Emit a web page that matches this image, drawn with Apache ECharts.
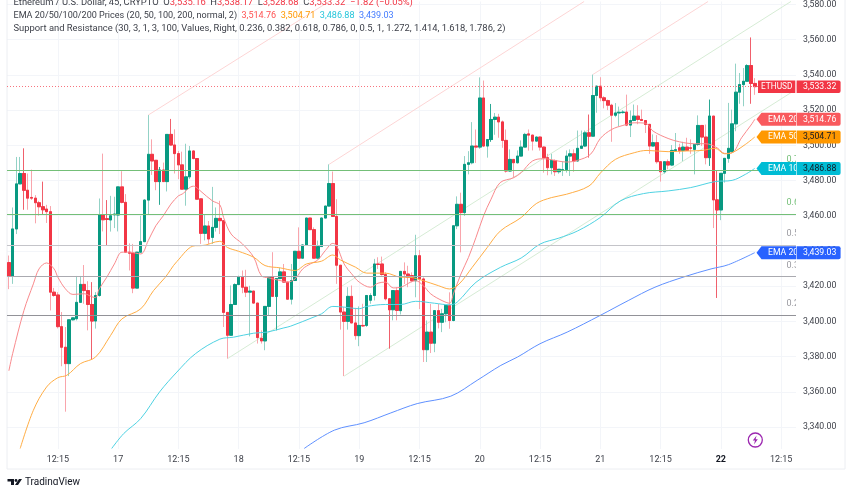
<!DOCTYPE html>
<html>
<head>
<meta charset="utf-8">
<style>html,body{margin:0;padding:0;background:#fff}#main{width:852px;height:485px}</style>
<script src="https://cdn.jsdelivr.net/npm/echarts@6/dist/echarts.min.js"></script>
</head>
<body>
<div id="main"></div>
<script>
// 45 minute candles: open, close, low, high
var candles = [
[3433.4,3425.5,3418.3,3437.4],[3425.5,3452.5,3421.3,3464.7],[3452.5,3478.1,3449.6,3493.4],[3478.1,3484,3478,3493.4],
[3484,3474.5,3463.4,3498.3],[3474.5,3470,3463.4,3484],[3470.4,3470,3469,3486.2],[3470,3467.4,3455.7,3471.7],
[3467.4,3465.1,3460,3468.5],[3465.1,3463.4,3460.6,3479.4],[3463.8,3462.3,3455.9,3466.2],[3462.3,3416.6,3406.2,3465.5],
[3416.6,3414.7,3414,3419],[3415,3397,3396,3416.6],[3397,3385.3,3374.5,3405.3],[3385.3,3376,3348.7,3396.8],
[3376,3400.9,3368.9,3401],[3400.9,3402,3400.5,3402.5],[3401.5,3410.8,3400.5,3425.8],[3410.8,3421,3410.8,3425.8],
[3421,3417.5,3410,3432],[3417.5,3409.6,3394.9,3422.8],[3409.6,3400.2,3378.3,3422.3],[3400.2,3414.7,3395.9,3416.6],
[3414.7,3460.4,3414,3469.8],[3460.4,3457.7,3451.1,3495.3],[3458.3,3457.9,3443.2,3468.9],[3457.6,3460,3451,3471.3],
[3460.5,3461,3453,3470.8],[3460.4,3476.4,3451.1,3476.5],[3476.4,3467.6,3467,3485.3],[3467.6,3439.3,3439,3472.3],
[3439.3,3438.7,3428.9,3444.3],[3438.7,3418.9,3416,3444],[3418.9,3439.3,3418.9,3439.5],[3439.3,3445.3,3439,3460],
[3445.3,3468.9,3445,3469.5],[3468.9,3494.9,3460.6,3517.2],[3494.9,3491.1,3483.2,3503.4],[3491.5,3479.4,3474.5,3491.6],
[3479.4,3486,3466.2,3487.7],[3486,3479.4,3479.4,3490.2],[3479.4,3506.2,3473.8,3506.3],[3506.2,3500.2,3500,3515],
[3500.2,3495.3,3484,3509.1],[3495.3,3488.9,3480.8,3496.8],[3488.9,3475.1,3475,3496.4],[3475.1,3482.1,3465.7,3500.9],
[3482.1,3496.8,3480.8,3499.6],[3496.8,3492.5,3492,3497.2],[3492.5,3469.4,3469,3492.6],[3469.6,3450,3444,3469.7],
[3450,3454.2,3446,3461],[3454.2,3446.8,3444,3457],[3447.7,3453.4,3444,3476.4],[3453.4,3458.5,3451,3464.7],
[3458.5,3457.2,3449.6,3468.5],[3457.2,3405.1,3396.8,3457.3],[3405.1,3392.1,3378.9,3405.2],[3392.1,3409.6,3392,3420.4],
[3409.6,3420.9,3409.5,3421.7],[3420.9,3425.1,3420.8,3426],[3425.1,3419.4,3416,3428.9],[3419.4,3416.6,3413.8,3429.3],
[3416.6,3417.2,3391.5,3420.2],[3417.2,3410.4,3410,3417.3],[3410.4,3390.8,3387.4,3410.5],[3390.4,3388.9,3387.4,3394.9],
[3388.9,3408.5,3383.6,3408.6],[3408.5,3425.1,3403.4,3425.2],[3425.1,3414.2,3414,3439.3],[3414.2,3424.3,3394.9,3424.4],
[3424.3,3428.1,3424,3430.4],[3428.1,3422.3,3422,3432.6],[3422.3,3412.6,3412.5,3422.4],[3412.6,3423.2,3409.6,3432.6],
[3423.2,3439.8,3423,3440],[3439.8,3435.9,3435.8,3453.4],[3435.9,3443.4,3435.8,3443.5],[3443.4,3458.7,3443.3,3458.8],
[3458.7,3452.1,3452,3458.8],[3452.1,3435.9,3435.5,3453.4],[3435.9,3442.5,3435.8,3445.9],[3442.5,3458.7,3442.4,3459],
[3458.7,3465.5,3458.6,3465.6],[3465.5,3478.3,3465.4,3489.2],[3478.3,3459.6,3459.5,3485.1],[3459.6,3431.9,3421.3,3469.4],
[3431.9,3405.3,3395.3,3432],[3405.3,3400,3368.9,3408.1],[3400,3414.2,3395.3,3419.4],[3414.2,3399.1,3399,3420.4],
[3399.1,3391.9,3389.6,3407.7],[3391.9,3397.7,3385.9,3408.5],[3397.7,3397.4,3396.8,3410],[3397.7,3414.7,3396.8,3415],
[3412,3414.7,3410,3416],[3414.7,3432.6,3411.9,3435.5],[3432.6,3432.3,3429.8,3436.4],[3432.6,3426.6,3426,3436.8],
[3426.6,3412.8,3411.9,3427.9],[3412.8,3406.6,3384.5,3413],[3406.6,3417.5,3400.6,3417.6],[3417.5,3406.2,3400.6,3419.4],
[3406.1,3428.4,3403.9,3428.5],[3428.4,3426.9,3421.2,3433.5],[3426.9,3425,3419.4,3431.6],[3426,3423.1,3422.2,3427.8],
[3423.1,3437.3,3413.7,3449.2],[3437.3,3424.1,3407,3440.5],[3424.1,3383.9,3376.9,3425],[3383.9,3393.9,3376.9,3400.5],
[3393.9,3387.6,3382,3409.9],[3387.6,3406.1,3382.5,3406.2],[3406.1,3399.5,3396,3409.9],[3399.5,3404.3,3393.9,3407.1],
[3404.3,3409,3399.5,3409.5],[3409,3400.5,3395.8,3416.5],[3400.5,3454.3,3400,3454.4],[3454.3,3466.5,3452.4,3471],
[3466.5,3461.8,3439.2,3473.1],[3461.8,3489.2,3459.9,3493.9],[3489.2,3490.1,3483.5,3496.7],[3490.1,3499.6,3489.2,3513.2],
[3499.6,3499,3490,3509],[3499,3526.9,3498,3538.6],[3526.9,3499.6,3499,3536.8],[3499.6,3503.3,3493,3503.5],
[3503.3,3514.7,3502,3523.5],[3514.7,3516,3506,3518.4],[3516,3513.3,3504.3,3517.9],[3513.3,3502.8,3498.6,3514.1],
[3502.8,3485.4,3484.5,3509],[3485.4,3492,3485,3497.7],[3492,3490.1,3481.6,3492.2],[3490.1,3493.9,3489.6,3497.1],
[3493.9,3499,3493.7,3502.8],[3499,3506.2,3498.9,3507.1],[3506.5,3505.8,3497,3509],[3505.8,3502.4,3497.1,3506],
[3502.4,3504.7,3502,3505],[3504.7,3499,3497,3505],[3499,3493,3484.5,3499.5],[3493,3487.3,3483,3495.2],
[3487.3,3491.4,3483.5,3495.2],[3491.4,3485,3482.6,3492],[3485,3486.4,3483.9,3486.5],[3485.8,3486.2,3482.6,3491],
[3486.2,3493.9,3484.5,3497.1],[3493.9,3495.2,3482.6,3497.7],[3495.2,3491.1,3485,3497.7],[3491.1,3498.3,3490.8,3508.4],
[3498.3,3499.6,3498.2,3508.4],[3499.6,3507.1,3499,3508.4],[3507.1,3505.2,3493,3517.5],[3505.2,3528.3,3505,3540.2],
[3528.3,3533.6,3518.5,3534],[3533.6,3527,3525,3538.7],[3527,3525.4,3521,3527.9],[3525.4,3522.8,3520,3526],
[3522.8,3517.1,3502,3523.6],[3517.1,3518.4,3516,3524],[3518.4,3518.8,3510.9,3522],[3518.6,3518.9,3518,3520],
[3518.9,3511.5,3510.9,3528.8],[3511.5,3514.1,3504.7,3519.8],[3514.1,3516.6,3513.7,3523.2],[3516.6,3514.7,3512,3522.8],
[3514.7,3514.1,3514,3520.3],[3514.1,3511.9,3507,3514.2],[3511.9,3499.6,3495.2,3512.2],[3499.6,3501.5,3499.5,3506.2],
[3501.5,3490.7,3489.6,3505.8],[3490.7,3485,3479.4,3491],[3485,3490.7,3483.9,3490.8],[3490.7,3488.8,3486.4,3492],
[3488.8,3497.1,3488.2,3500.2],[3497.1,3497.5,3496.4,3507],[3498.6,3497.1,3495.2,3500.9],[3497.1,3499,3491,3502],
[3499,3497.1,3496.8,3504.3],[3498.6,3498.3,3495.2,3503.4],[3497.7,3500.5,3483.5,3500.6],[3500.5,3511.3,3499.6,3517],
[3511.3,3504.7,3499.6,3511.4],[3504.7,3493,3489.2,3511.8],[3493,3516.6,3488.3,3526],[3516.6,3469,3453,3516.7],
[3469,3463.3,3413.3,3485.4],[3463.3,3484.1,3457.5,3484.2],[3484.1,3492.6,3478.8,3492.7],[3492.6,3498.3,3490.1,3524.1],
[3496.4,3512.2,3495.8,3520.3],[3512.2,3530.2,3508,3546.4],[3530.2,3534.5,3523.6,3541.1],[3534.5,3536.4,3522.2,3543.9],
[3536.4,3545.3,3536.3,3546.2],[3545.3,3535.16,3523.6,3561.3],[3535.16,3533.32,3528.68,3538.17]
];
// candles whose wick shows in the full colour
var darkWicks = [4,9,22,26,40,43,71,101,128,154,186,188,197];

// EMA lines as [candle number, price] read at points along each curve
var ema20 = [[0,3371.9],[1,3381.7],[4,3406.2],[6.5,3421.3],[8,3429.8],[10,3433.2],[12,3429.8],[13,3425.1],[15,3418.5],[17,3415.3],[20,3415.7],[22,3414],[23,3413.5],[24,3418.5],[26,3425.1],[28,3432.6],[30,3439.3],[32,3439.3],[35,3438.3],[37,3445.9],[39,3454.3],[41,3460],[43,3466.6],[45,3471.3],[46,3472.3],[49,3476.8],[50,3475.7],[51,3473.8],[54,3468.5],[56,3466.2],[57,3459],[59,3449.6],[62,3444],[65,3436.4],[67,3426],[69,3424.7],[72,3423.2],[74,3422.3],[76,3424.2],[78,3429.8],[80,3432.6],[82,3434.9],[84,3440.2],[86,3444.3],[87,3443],[89,3432.6],[91,3427],[93,3422.3],[96,3419.4],[98,3421.7],[100,3422.3],[102,3419],[104,3419.4],[108,3423.1],[110,3420.3],[112,3415.6],[115,3411.8],[117,3410.3],[118,3415.6],[120,3426.9],[122,3436.3],[124,3447.7],[126,3459.9],[128,3469.4],[130.4,3478.8],[134,3481.6],[136,3484.5],[139,3491.1],[142,3492.4],[146,3491],[148,3490.5],[151,3491.5],[154.4,3494.9],[157,3503.9],[160,3509],[163,3511.3],[166,3512.8],[169,3512.6],[171,3508.1],[175,3503.9],[178,3502],[182,3500.9],[185,3500.9],[188,3498.6],[190,3495.4],[192,3495.8],[194.5,3504.3],[197,3511.5],[198,3514.76]];
var ema50 = [[3,3327.8],[6.5,3349.5],[10,3362.7],[13,3368],[15.4,3369.4],[19,3376],[23,3379.7],[27,3392],[30,3401.4],[35,3407.1],[38.4,3417.5],[41.5,3425],[44.6,3434],[49.5,3443],[51,3443],[56,3445.5],[58,3442],[61,3439.8],[65,3436.4],[68,3431.7],[72,3430.4],[76,3428.9],[79,3432.6],[83,3434.2],[86,3437.7],[88,3434.9],[92,3430.8],[95,3427.4],[100,3427.4],[104,3425.1],[106.5,3425],[110,3423.1],[114,3420.3],[117,3418.4],[119.5,3421.2],[123,3430.7],[127,3442],[130.5,3451.4],[136,3459],[140,3466.9],[144,3470.3],[148,3472.2],[154,3476.9],[157,3484.2],[161,3492],[166,3495.8],[169.4,3497.1],[175,3496.4],[180,3496.8],[184,3497.1],[187.5,3498.3],[190,3495.2],[192,3495.8],[195.5,3500.5],[198,3504.71]];
var ema100 = [[27.3,3327.8],[30.5,3336.3],[35,3344.8],[40,3359.9],[44.6,3371.2],[49.5,3381.6],[56,3389.9],[59.6,3391],[65,3393.3],[68.5,3393.9],[73,3396.3],[74.7,3397.2],[81,3402.5],[83,3404.3],[86,3408.5],[89,3408.1],[93,3407.2],[95,3408.5],[100,3409.6],[104,3409.6],[108,3411.4],[113,3410.3],[117,3409.4],[119,3410.9],[124,3422.2],[130.5,3430.7],[136,3436],[141,3443.9],[146,3447.3],[151,3451.4],[157,3459],[162.3,3468.4],[168.5,3472.6],[175,3474.1],[181,3476],[187.5,3479.4],[192,3480.1],[195.5,3483.5],[198,3486.88]];
var ema200 = [[78.4,3327.8],[86.4,3338.2],[94.3,3342.4],[101.4,3348],[108.4,3353.3],[117.3,3357.5],[124.3,3366.5],[130.6,3375],[135,3379.7],[141,3387.3],[148.2,3393.9],[156.9,3403.3],[164.4,3411.8],[171.5,3419.4],[179.4,3425.4],[186.4,3429.8],[191,3432.2],[198,3439.03]];

// channel lines, start and end of each
var pinkLines = [[[37,3517.2],[85,3581.7]],[[85,3489.2],[152.7,3581.7]],[[155,3540.2],[185.6,3581.7]]];
var greenLines = [[[58,3378.8],[207.6,3581.7]],[[89,3368.9],[208.2,3530.7]]];

// support and resistance levels
var levelPrices = [3485.6,3460.8,3443,3425.4,3403.6];
var levelColors = ['#74bf78','#74bf78','#c4c4c9','#aaaab0','#929298'];
var lastPrice = 3533.32;

var priceTicks = [3340,3360,3380,3400,3420,3440,3460,3480,3500,3520,3540,3560,3580];
var timeTicks = [13,29,45,61,77,93,109,125,141,157,173,189,205];
var timeLabels = ['12:15','17','12:15','18','12:15','19','12:15','20','12:15','21','12:15','22','12:15'];

// price tags on the right
var tagNames = ['EMA 20','EMA 50','EMA 10','EMA 20'];
var tagValues = [3514.76,3504.71,3486.88,3439.03];
var tagPrices = ['3,514.76','3,504.71','3,486.88','3,439.03'];
var tagColors = ['#f9595d','#ff9800','#00bcd4','#2962ff'];
var tagInk = ['#fff','#131722','#131722','#fff'];

// clipped level captions at the right edge of the plot
var fibTexts = ['0.7','0.6','0.5','0.3','0.2'];
var fibPrices = [3492,3467.2,3449.5,3431.5,3410];
var fibColors = ['#74bf78','#74bf78','#9a9aa0','#9a9aa0','#9a9aa0'];

var FONT = 'Roboto';
var UP = '#089981', DOWN = '#f23645';

var chart = echarts.init(document.getElementById('main'));

function lineSeries(data, color) {
	return {
		type: 'line', data: data, symbol: 'none', silent: true, z: 4,
		lineStyle: { color: color, width: 1 }
	};
}

function emaSeries(data, color) {
	return Object.assign(lineSeries(data, color), { smooth: 0.35 });
}

var series = [];

pinkLines.forEach(function (l) { series.push(Object.assign(lineSeries(l, '#fdd5d5'), { z: 1 })); });
greenLines.forEach(function (l) { series.push(Object.assign(lineSeries(l, '#d6ecd5'), { z: 1 })); });

series.push({
	type: 'line', data: [], symbol: 'none', silent: true, z: 1,
	markLine: {
		silent: true, symbol: 'none', label: { show: false }, animation: false,
		data: levelPrices.map(function (v, i) {
			return { yAxis: v, lineStyle: { color: levelColors[i], width: 1.2, type: 'solid' } };
		}).concat([{ yAxis: lastPrice, lineStyle: { color: '#f7747e', width: 1, type: [1, 2] } }])
	}
});

// wicks first, bodies over them so the wicks can be paler
series.push({
	type: 'candlestick', barWidth: 3, silent: true, z: 2,
	data: candles.map(function (c, i) {
		var item = { value: [i, c[0], c[1], c[2], c[3]] };
		if (darkWicks.indexOf(i) >= 0) {
			var col = c[1] > c[0] ? '#2ba893' : '#f0606c';
			item.itemStyle = { color: col, color0: col, borderColor: col, borderColor0: col };
		}
		return item;
	}),
	itemStyle: { color: '#93d2c6', color0: '#f9a5ac', borderColor: '#93d2c6', borderColor0: '#f9a5ac', borderWidth: 1 }
});
series.push({
	type: 'candlestick', barWidth: 3, silent: true, z: 3,
	data: candles.map(function (c, i) {
		return [i, c[0], c[1], Math.min(c[0], c[1]), Math.max(c[0], c[1])];
	}),
	itemStyle: { color: UP, color0: DOWN, borderColor: UP, borderColor0: DOWN, borderWidth: 1 }
});

series.push(emaSeries(ema20, '#f98a8d'));
series.push(emaSeries(ema50, '#ffad45'));
series.push(emaSeries(ema100, '#4fd2e2'));
series.push(emaSeries(ema200, '#5f90ff'));

function titleLine(text, top, size) {
	function part(color) { return { color: color, fontFamily: FONT, fontSize: size }; }
	return {
		left: 13.5, top: top, padding: 0, text: text,
		textStyle: {
			fontSize: size, fontWeight: 'normal', fontFamily: FONT, color: '#3b3e47',
			rich: { k: part('#3b3e47'), r: part('#f23645'), a: part('#ff5252'), b: part('#ff9800'), c: part('#26c6da'), d: part('#447cff') }
		}
	};
}

chart.setOption({
	animation: false,
	backgroundColor: '#fff',
	title: [
		titleLine('{k|Ethereum / U.S. Dollar, 45, CRYPTO  O}{r|3,535.16}{k|  H}{r|3,538.17}{k|  L}{r|3,528.68}{k|  C}{r|3,533.32  −1.82 (−0.05%)}', -2, 9.4),
		titleLine('{k|EMA 20/50/100/200 Prices (20, 50, 100, 200, normal, 2)  }{a|3,514.76}{k|  }{b|3,504.71}{k|  }{c|3,486.88}{k|  }{d|3,439.03}', 11.5, 9.05),
		titleLine('{k|Support and Resistance (30, 3, 1, 3, 100, Values, Right, 0.236, 0.382, 0.618, 0.786, 0, 0.5, 1, 1.272, 1.414, 1.618, 1.786, 2)}', 24, 9.4)
	],
	grid: { left: 7, right: 56, top: 0, bottom: 36 },
	xAxis: {
		type: 'value', min: -0.5, max: 208.95,
		axisLine: { show: false },
		axisTick: { show: false, customValues: timeTicks },
		splitLine: { show: true, lineStyle: { color: '#f3f5f9', width: 1 } },
		axisLabel: {
			customValues: timeTicks, margin: 6, fontFamily: FONT, fontSize: 9, color: '#3b3e47',
			formatter: function (v) {
				var s = timeLabels[timeTicks.indexOf(v)];
				return s === '22' ? '{b|22}' : s;
			},
			rich: { b: { fontFamily: FONT, fontSize: 9, fontWeight: 'bold', color: '#131722' } }
		}
	},
	yAxis: {
		type: 'value', position: 'right', min: 3327.5, max: 3581.7,
		axisLine: { show: false },
		axisTick: { show: false, customValues: priceTicks },
		splitLine: { show: true, lineStyle: { color: '#f3f5f9', width: 1 } },
		axisLabel: {
			customValues: priceTicks, margin: 7, fontFamily: FONT, fontSize: 8.7, color: '#3b3e47',
			formatter: function (v) {
				return v.toLocaleString('en-US', { minimumFractionDigits: 2, maximumFractionDigits: 2 });
			}
		}
	},
	series: series
});

// tags and chrome, placed with the chart's own price scale
function yOf(v) { return chart.convertToPixel({ yAxisIndex: 0 }, v); }

var g = [];
[
	{ x1: 7, y1: 0, x2: 7, y2: 469 }, { x1: 845, y1: 0, x2: 845, y2: 469 }, { x1: 7, y1: 469, x2: 845, y2: 469 }
].forEach(function (s) {
	g.push({ type: 'line', shape: s, style: { stroke: '#eceef2', lineWidth: 1 }, z: 1 });
});

fibTexts.forEach(function (t, i) {
	g.push({ type: 'text', x: 786.5, y: yOf(fibPrices[i]), z: 5, style: { text: t, fill: fibColors[i], font: '9px ' + FONT, verticalAlign: 'middle' } });
});
// narrow white strip cuts those captions at the plot edge, stops short of the price labels
g.push({ type: 'rect', shape: { x: 796, y: 0, width: 6, height: 449 }, style: { fill: '#fff' }, z: 6, silent: true });

tagNames.forEach(function (t, i) {
	var y = yOf(tagValues[i]);
	g.push({ type: 'polygon', z: 20, shape: { points: [[756.5, y], [761.5, y - 6.5], [796, y - 6.5], [796, y + 6.5], [761.5, y + 6.5]] }, style: { fill: tagColors[i] } });
	g.push({ type: 'text', z: 21, x: 768, y: y, style: { text: t, fill: '#fff', font: '8.7px ' + FONT, verticalAlign: 'middle' } });
	g.push({ type: 'rect', z: 22, shape: { x: 796.6, y: y - 6.5, width: 44, height: 13, r: [0, 2, 2, 0] }, style: { fill: tagColors[i] } });
	g.push({ type: 'text', z: 23, x: 803, y: y, style: { text: tagPrices[i], fill: tagInk[i], font: '8.7px ' + FONT, verticalAlign: 'middle' } });
});

var yLast = yOf(lastPrice);
g.push({ type: 'rect', z: 20, shape: { x: 758, y: yLast - 6.3, width: 37.3, height: 12.6 }, style: { fill: DOWN } });
g.push({ type: 'text', z: 21, x: 761, y: yLast, style: { text: 'ETHUSD', fill: '#fff', font: '8.3px ' + FONT, verticalAlign: 'middle' } });
g.push({ type: 'rect', z: 22, shape: { x: 796.6, y: yLast - 6.3, width: 44, height: 12.6, r: [0, 2, 2, 0] }, style: { fill: DOWN } });
g.push({ type: 'text', z: 23, x: 803, y: yLast, style: { text: '3,533.32', fill: '#fff', font: '8.7px ' + FONT, verticalAlign: 'middle' } });

// lightning badge
g.push({ type: 'circle', z: 20, shape: { cx: 755.3, cy: 440, r: 7 }, style: { fill: '#fff', stroke: '#9c27b0', lineWidth: 1.3 } });
g.push({ type: 'polygon', z: 21, shape: { points: [[756.6, 435.6], [752.8, 440.6], [755, 440.6], [754, 444.4], [757.8, 439.3], [755.6, 439.3]] }, style: { fill: '#9c27b0' } });

// TradingView mark
g.push({ type: 'polygon', z: 20, shape: { points: [[7.5, 479], [14, 479], [14, 485], [11, 485], [11, 481.5], [7.5, 481.5]] }, style: { fill: '#131722' } });
g.push({ type: 'circle', z: 20, shape: { cx: 16, cy: 480.5, r: 1.4 }, style: { fill: '#131722' } });
g.push({ type: 'polygon', z: 20, shape: { points: [[19, 479], [22, 479], [18, 485], [15, 485]] }, style: { fill: '#131722' } });
g.push({ type: 'text', z: 20, x: 25, y: 482.5, style: { text: 'TradingView', fill: '#131722', font: '10px ' + FONT, verticalAlign: 'middle' } });

chart.setOption({ graphic: { elements: g } });
</script>
</body>
</html>
